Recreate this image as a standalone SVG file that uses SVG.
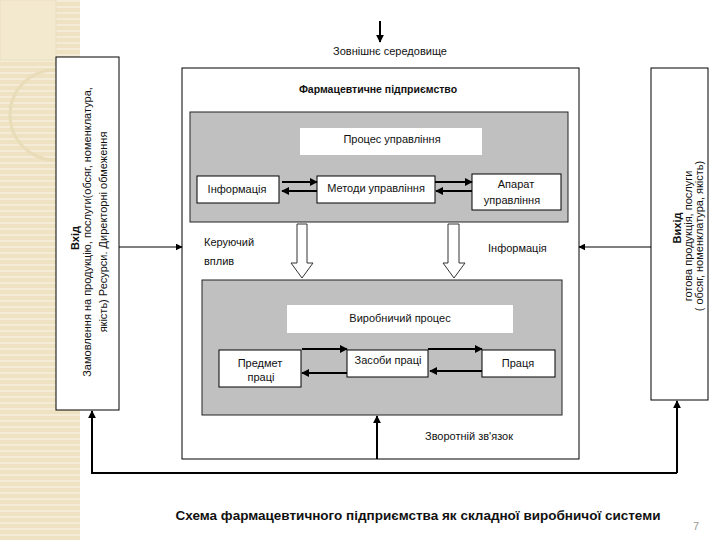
<svg xmlns="http://www.w3.org/2000/svg" width="720" height="540" viewBox="0 0 720 540">
<style>
text{font-family:"Liberation Sans",Arial,sans-serif;fill:#111}
.t{font-size:11px}
.b{font-weight:bold}
.box{fill:#fff;stroke:#000;stroke-width:1}
.gray{fill:#c0c0c0;stroke:#222;stroke-width:1}
.lbl{fill:#fff;stroke:none}
.c1{stroke:#000;stroke-width:1;fill:none}
.c2{stroke:#000;stroke-width:2;fill:none}
.hollow{fill:#fff;stroke:#333;stroke-width:1}
</style>
<defs>
<marker id="ah" viewBox="0 0 10 10" refX="9" refY="5" markerWidth="4" markerHeight="4" orient="auto" markerUnits="strokeWidth">
<path d="M0,0 L10,5 L0,10 z" fill="#000"/>
</marker>
<marker id="ah1" viewBox="0 0 10 10" refX="9" refY="5" markerWidth="7" markerHeight="7" orient="auto" markerUnits="strokeWidth">
<path d="M0,0 L10,5 L0,10 z" fill="#000"/>
</marker>
<pattern id="stripes" width="8" height="6" patternUnits="userSpaceOnUse">
<rect width="8" height="6" fill="#eee2c2"/>
<rect y="0" width="8" height="2" fill="#f4ecd6"/>
</pattern>
</defs>
<rect width="720" height="540" fill="#fff"/>
<g id="background">
<rect x="0" y="0" width="80" height="540" fill="url(#stripes)"/>
<rect x="0" y="0" width="56" height="60" fill="#f2e9cf" stroke="#ebdfbf" stroke-width="1"/>
<path d="M55,70 A40,40 0 0 0 55,160" fill="none" stroke="#e9dcb8" stroke-width="3"/>
</g>
<g id="input">
<rect class="box" x="56" y="57" width="63" height="353"/>
<g transform="translate(79,238) rotate(-90)"><text class="t b" text-anchor="middle" x="0" y="0">Вхід</text></g>
<g transform="translate(91,232) rotate(-90)"><text class="t" text-anchor="middle" x="0" y="0">Замовлення на продукцію, послуги(обсяг, номенклатура,</text></g>
<g transform="translate(107,232) rotate(-90)"><text class="t" text-anchor="middle" x="0" y="0">якість) Ресурси. Директорні обмеження</text></g>
</g>
<g id="output">
<rect class="box" x="651" y="68" width="57" height="332"/>
<g transform="translate(681,228) rotate(-90)"><text class="t b" text-anchor="middle" x="0" y="0">Вихід</text></g>
<g transform="translate(692,236) rotate(-90)"><text class="t" text-anchor="middle" x="0" y="0">готова продукція, послуги</text></g>
<g transform="translate(703,236) rotate(-90)"><text class="t" text-anchor="middle" x="0" y="0">( обсяг, номенклатура, якість)</text></g>
</g>
<g id="environment">
<text class="t" text-anchor="middle" x="390" y="55">Зовнішнє середовище</text>
</g>
<g id="enterprise">
<rect class="box" x="182" y="68" width="397" height="391"/>
<text class="b" font-size="10.5" text-anchor="middle" x="378" y="93">Фармацевтичне підприємство</text>
</g>
<g id="management">
<rect class="gray" x="190" y="112" width="378" height="110"/>
<rect class="lbl" x="300" y="128" width="182" height="27"/>
<text class="t" text-anchor="middle" x="392" y="143">Процес управління</text>
</g>
<g id="info1">
<rect class="box" x="197" y="176" width="82" height="27"/>
<text class="t" text-anchor="middle" x="237" y="193">Інформація</text>
</g>
<g id="methods">
<rect class="box" x="317" y="176" width="118" height="27"/>
<text class="t" text-anchor="middle" x="376" y="192">Методи управління</text>
</g>
<g id="apparatus">
<rect class="box" x="472" y="174" width="89" height="36"/>
<text class="t" text-anchor="middle" x="516" y="188">Апарат</text>
<text class="t" text-anchor="middle" x="512" y="204">управління</text>
</g>
<g id="control">
<text class="t" x="204" y="246">Керуючий</text>
<text class="t" x="204" y="265">вплив</text>
</g>
<g id="info2">
<text class="t" x="488" y="252">Інформація</text>
</g>
<g id="production">
<rect class="gray" x="202" y="280" width="360" height="135"/>
<rect class="lbl" x="287" y="305" width="226" height="28"/>
<text class="t" text-anchor="middle" x="400" y="322">Виробничий процес</text>
</g>
<g id="subject">
<rect class="box" x="219" y="350" width="82" height="37"/>
<text class="t" text-anchor="middle" x="260" y="367">Предмет</text>
<text class="t" text-anchor="middle" x="261" y="381">праці</text>
</g>
<g id="means">
<rect class="box" x="347" y="350" width="81" height="27"/>
<text class="t" text-anchor="middle" x="388" y="364">Засоби праці</text>
</g>
<g id="labour">
<rect class="box" x="482" y="350" width="73" height="27"/>
<text class="t" text-anchor="middle" x="518" y="367">Праця</text>
</g>
<g id="feedback">
<text class="t" text-anchor="middle" x="469" y="440">Зворотній зв'язок</text>
</g>
<g id="connectors">
<line class="c2" x1="380" y1="21" x2="380" y2="42" marker-end="url(#ah)"/>
<line class="c1" x1="119" y1="247" x2="182" y2="247" marker-end="url(#ah1)"/>
<line class="c1" x1="651" y1="247" x2="579" y2="247" marker-end="url(#ah1)"/>
<line class="c2" x1="282" y1="182" x2="317" y2="182" marker-end="url(#ah)"/>
<line class="c2" x1="317" y1="191" x2="282" y2="191" marker-end="url(#ah)"/>
<line class="c2" x1="435" y1="182" x2="472" y2="182" marker-end="url(#ah)"/>
<line class="c2" x1="472" y1="191" x2="436" y2="191" marker-end="url(#ah)"/>
<line class="c2" x1="302" y1="349" x2="347" y2="349" marker-end="url(#ah)"/>
<line class="c2" x1="347" y1="373" x2="302" y2="373" marker-end="url(#ah)"/>
<line class="c2" x1="428" y1="349" x2="482" y2="349" marker-end="url(#ah)"/>
<line class="c2" x1="482" y1="371" x2="430" y2="371" marker-end="url(#ah)"/>
<polygon class="hollow" points="297,224 307,224 307,263 313,263 302,278 291,263 297,263"/>
<polygon class="hollow" points="448,224 459,224 459,263 465,263 454,278 443,263 448,263"/>
<line class="c2" x1="377" y1="459" x2="377" y2="416" marker-end="url(#ah)"/>
<polyline class="c2" points="677,473 92,473 92,411" marker-end="url(#ah)"/>
<polyline class="c2" points="677,473 677,401" marker-end="url(#ah)"/>
</g>
<g id="caption">
<text class="b" font-size="13.5" text-anchor="middle" x="418" y="520">Схема фармацевтичного підприємства як складної виробничої системи</text>
<text font-size="11" style="fill:#999" x="693" y="530">7</text>
</g>
</svg>
